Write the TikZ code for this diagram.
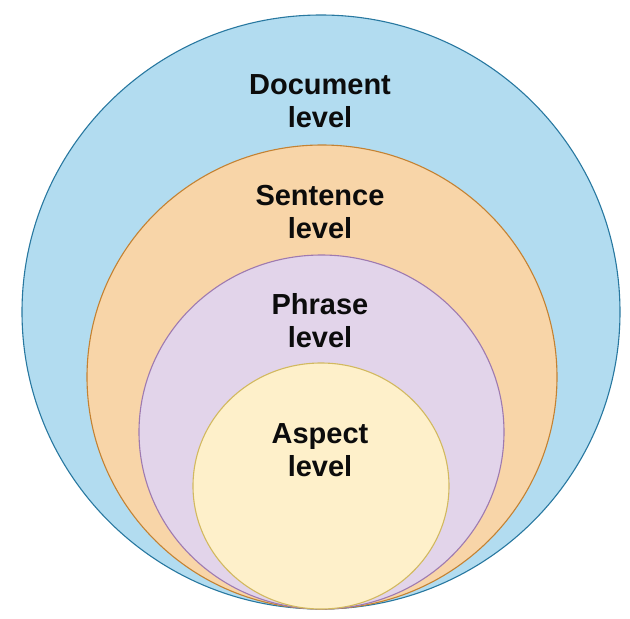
\documentclass[tikz,border=0pt]{standalone}
\usepackage{fontspec}
\setmainfont{Liberation Sans}
\usepackage{tikz}
\usetikzlibrary{positioning}
\definecolor{docfill}{RGB}{178,220,240}
\definecolor{docline}{RGB}{40,120,160}
\definecolor{senfill}{RGB}{248,213,168}
\definecolor{senline}{RGB}{196,130,50}
\definecolor{phrfill}{RGB}{226,212,234}
\definecolor{phrline}{RGB}{158,122,176}
\definecolor{aspfill}{RGB}{254,240,202}
\definecolor{aspline}{RGB}{210,185,95}
\definecolor{lvlink}{RGB}{12,12,12}
\begin{document}
\begin{tikzpicture}[x=1pt,y=-1pt,
  lvl/.style={align=center,inner sep=0pt,text=lvlink,
    font=\fontsize{29}{33}\selectfont\bfseries},
  ring/.style={line width=1.1pt}]
  \useasboundingbox (0,0) rectangle (630,619);
  % nested levels, all touching at the bottom
  \draw[ring,docline,fill=docfill] (321,312) ellipse [x radius=299,y radius=297];
  \draw[ring,senline,fill=senfill] (322,377) ellipse [x radius=235,y radius=232];
  \draw[ring,phrline,fill=phrfill] (321.5,432) ellipse [x radius=182.5,y radius=177];
  \draw[ring,aspline,fill=aspfill] (321,486) ellipse [x radius=128,y radius=123];
  % labels
  \node[lvl] (doc) at (320,101.5) {Document\\level};
  \node[lvl] (sen) at (320,212.5) {Sentence\\level};
  \node[lvl] (phr) at (320,321) {Phrase\\level};
  \node[lvl] (asp) at (320,450) {Aspect\\level};
\end{tikzpicture}
\end{document}
